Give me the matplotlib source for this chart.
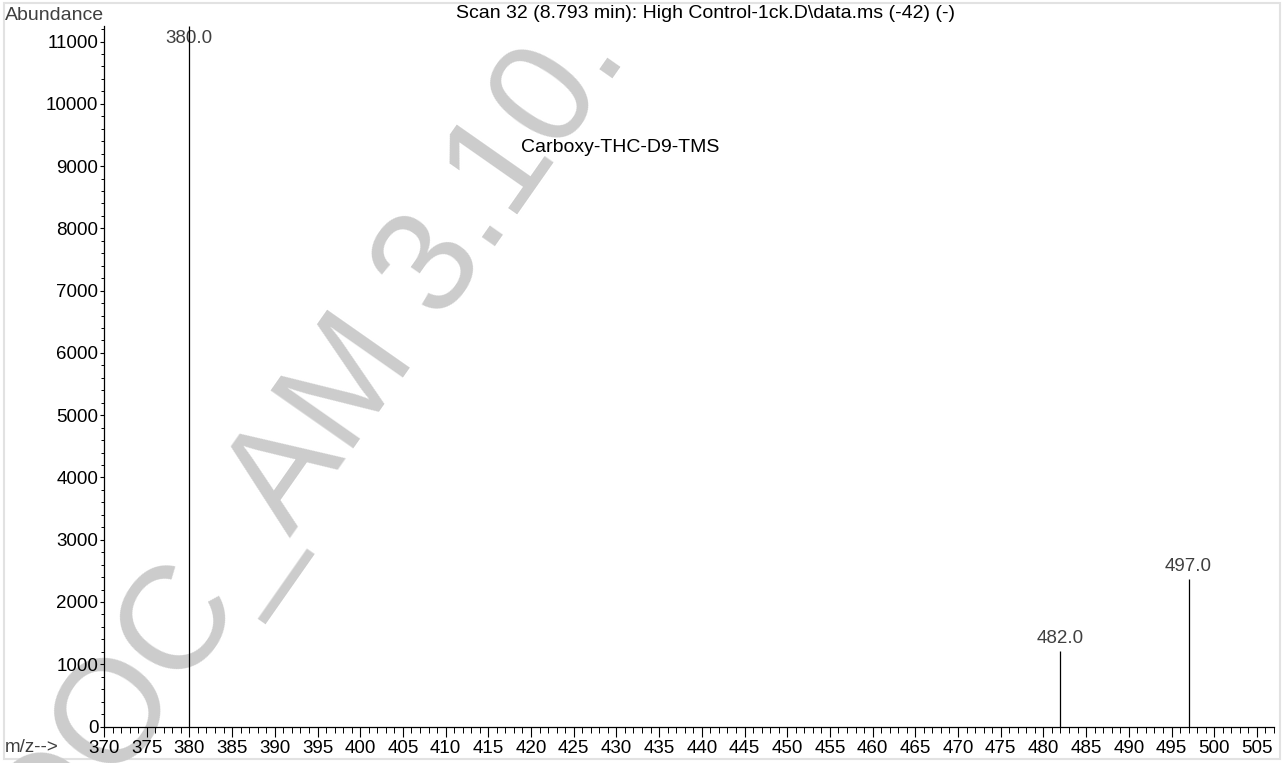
import matplotlib
matplotlib.use("Agg")
import matplotlib.pyplot as plt
from matplotlib.ticker import MultipleLocator
from matplotlib.patches import Rectangle
from matplotlib import font_manager

# Mass spectrum peaks (m/z, abundance)
mz = [380.0, 482.0, 497.0]
abundance = [11250, 1217, 2369]
peak_labels = ["380.0", "482.0", "497.0"]

x_range = (370, 507)
y_range = (0, 11250)
x_major = list(range(370, 506, 5))
y_major = list(range(0, 11001, 1000))

title = "Scan 32 (8.793 min): High Control-1ck.D\\data.ms (-42) (-)"
compound = "Carboxy-THC-D9-TMS"
watermark = "DOC_AM 3.10."

installed = {f.name for f in font_manager.fontManager.ttflist}
base_font = "Liberation Sans" if "Liberation Sans" in installed else "DejaVu Sans"
narrow_font = "Liberation Sans Narrow" if "Liberation Sans Narrow" in installed else base_font
plt.rcParams["font.family"] = [base_font, "DejaVu Sans"]

W, H, DPI = 1284, 763, 100
fig = plt.figure(figsize=(W / DPI, H / DPI), dpi=DPI, facecolor="white")

def fx(px):
    return px / W

def fy(py):
    return 1 - py / H

# light outer frame
fig.patches.append(Rectangle((fx(4), fy(759)), fx(1280) - fx(4), fy(3) - fy(759),
                             transform=fig.transFigure, fill=False,
                             edgecolor="#e2e2e2", linewidth=1.5, zorder=0))

# background watermark
fig.text(fx(56), fy(873), watermark, fontsize=106, color="#cccccc",
         rotation=55, rotation_mode="anchor", ha="left", va="baseline",
         family=[base_font, "DejaVu Sans"], zorder=0)

left, right, bottom, top = 104, 1274, 726.5, 26
ax = fig.add_axes([fx(left), fy(bottom), fx(right) - fx(left), fy(top) - fy(bottom)])
ax.set_facecolor("none")
ax.set_zorder(1)

ax.vlines(mz, 0, abundance, colors="black", linewidth=0.9, zorder=3)

ax.set_xlim(*x_range)
ax.set_ylim(*y_range)

for s in ("top", "right"):
    ax.spines[s].set_visible(False)
for s in ("left", "bottom"):
    ax.spines[s].set_linewidth(0.9)
    ax.spines[s].set_color("black")

ax.set_xticks(x_major)
ax.set_yticks(y_major)
ax.xaxis.set_minor_locator(MultipleLocator(1))
ax.yaxis.set_minor_locator(MultipleLocator(200))
ax.tick_params(axis="x", which="major", direction="out", length=7.5, width=0.8,
               pad=2.5, labelsize=13.5, colors="black")
ax.tick_params(axis="x", which="minor", direction="out", length=4.5, width=0.7)
ax.tick_params(axis="y", which="major", direction="out", length=3, width=0.8,
               pad=1, labelsize=13.5, colors="black")
ax.tick_params(axis="y", which="minor", direction="out", length=2, width=0.7)

# peak labels
for x, y, lab in zip(mz, abundance, peak_labels):
    if y >= y_range[1] * 0.98:
        ax.annotate(lab, (x, y), xytext=(0, -3), textcoords="offset points",
                    ha="center", va="top", fontsize=13.5, color="#404040", zorder=2)
    else:
        ax.annotate(lab, (x, y), xytext=(0, 3), textcoords="offset points",
                    ha="center", va="bottom", fontsize=13.5, color="#404040", zorder=2)

# header texts
fig.text(fx(5), fy(16), "Abundance", fontsize=14, color="#404040", ha="left", va="center")
fig.text(fx(5), fy(748), "m/z-->", fontsize=13.5, color="#404040", ha="left", va="center")
fig.text(fx(705), fy(14), title, fontsize=14, color="black", ha="center", va="center",
         family=[narrow_font, base_font])
fig.text(fx(620), fy(148), compound, fontsize=14, color="black", ha="center", va="center",
         family=[narrow_font, base_font])

fig.savefig("out.png", dpi=DPI, facecolor="white")
